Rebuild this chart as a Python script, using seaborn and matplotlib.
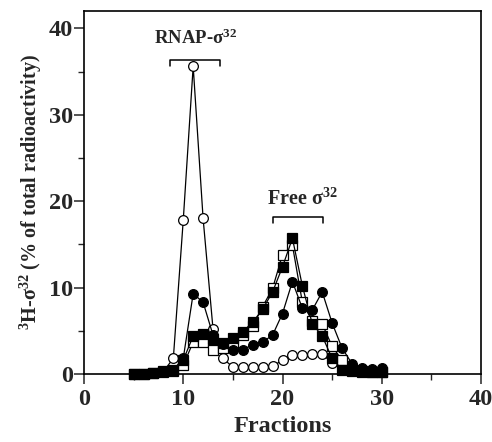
import matplotlib
matplotlib.use("Agg")
import matplotlib.pyplot as plt
import seaborn as sns
import numpy as np
from matplotlib.ticker import MultipleLocator

fractions = list(range(5, 31))
open_circles = [0, 0, 0.1, 0.3, 1.8, 17.8, 35.6, 18.0, 5.2, 1.8, 0.8, 0.8, 0.8, 0.8, 0.9,
                1.6, 2.2, 2.2, 2.3, 2.3, 1.3, 0.5, 0.3, 0.3, 0.3, 0.3]
filled_circles = [0, 0, 0.1, 0.2, 0.5, 1.8, 9.3, 8.3, 4.5, 3.5, 2.8, 2.8, 3.4, 3.7, 4.5,
                  7.0, 10.7, 7.6, 7.4, 9.5, 5.9, 3.0, 1.2, 0.7, 0.6, 0.7]
open_squares = [0, 0, 0.1, 0.2, 0.4, 1.0, 3.7, 3.7, 2.8, 3.0, 3.5, 4.5, 5.5, 7.8, 9.9,
                13.8, 14.9, 8.3, 6.1, 5.8, 3.2, 1.6, 0.5, 0.3, 0.2, 0.2]
filled_squares = [0, 0, 0.1, 0.3, 0.5, 1.6, 4.4, 4.6, 4.0, 3.6, 4.2, 4.9, 6.0, 7.5, 9.5,
                  12.4, 15.7, 10.2, 5.8, 4.4, 1.8, 0.5, 0.3, 0.2, 0.2, 0.2]

x_ticks = [0, 10, 20, 30, 40]
y_ticks = [0, 10, 20, 30, 40]

sns.set_style("ticks")
plt.rcParams['font.family'] = ['Liberation Serif', 'DejaVu Serif']
plt.rcParams['font.weight'] = 'bold'
plt.rcParams['mathtext.fontset'] = 'custom'
plt.rcParams['mathtext.rm'] = 'Liberation Serif'
plt.rcParams['mathtext.bf'] = 'Liberation Serif:bold'
plt.rcParams['mathtext.default'] = 'rm'

fig = plt.figure(figsize=(4.92, 4.42), dpi=100)
ax = fig.add_axes([84/492, 68/442, (481-84)/492, (374-11)/442])

series = [
    (open_circles, 'o', 'white', 3),
    (open_squares, 's', 'white', 4),
    (filled_squares, 's', 'black', 5),
    (filled_circles, 'o', 'black', 6),
]
for vals, mk, fc, z in series:
    sns.lineplot(x=fractions, y=vals, ax=ax, color='black', linewidth=0.9,
                 marker=mk, markersize=7,
                 markerfacecolor=fc, markeredgecolor='black', markeredgewidth=0.9,
                 legend=False, zorder=z, clip_on=False)

ax.set_xlim(0, 40)
ax.set_ylim(0, 42)
ax.set_xticks(x_ticks)
ax.set_yticks(y_ticks)
ax.xaxis.set_minor_locator(MultipleLocator(5))
ax.yaxis.set_minor_locator(MultipleLocator(5))
ax.tick_params(which='major', direction='out', length=7, width=1.1, labelsize=17.5,
               top=False, right=False)
ax.tick_params(axis='y', which='major', pad=1)
ax.tick_params(axis='x', which='major', pad=4)
ax.tick_params(which='minor', direction='out', length=4, width=1.0, top=False, right=False)
for lab in ax.get_xticklabels() + ax.get_yticklabels():
    lab.set_fontweight('bold')
for s in ax.spines.values():
    s.set_visible(True)
    s.set_linewidth(1.2)
    s.set_color('black')

ax.set_xlabel('Fractions', fontsize=17.5, fontweight='bold', labelpad=4)
ax.set_ylabel(r'$^{3}$H-σ$^{32}$ (% of total radioactivity)', fontsize=14.5,
              fontweight='bold', labelpad=3)

# brackets
def bracket(x0, x1, y, h):
    ax.plot([x0, x0, x1, x1], [y - h, y, y, y - h], color='black', lw=1.1, clip_on=False)

bracket(8.7, 13.7, 36.3, 0.7)
bracket(19.0, 24.1, 18.2, 0.7)
ax.text(11.2, 38.8, r'RNAP-σ$^{32}$', ha='center', va='center', fontsize=13.5, fontweight='bold')
ax.text(22.0, 20.2, r'Free σ$^{32}$', ha='center', va='center', fontsize=14.5, fontweight='bold')

fig.savefig('out.png', dpi=100)
